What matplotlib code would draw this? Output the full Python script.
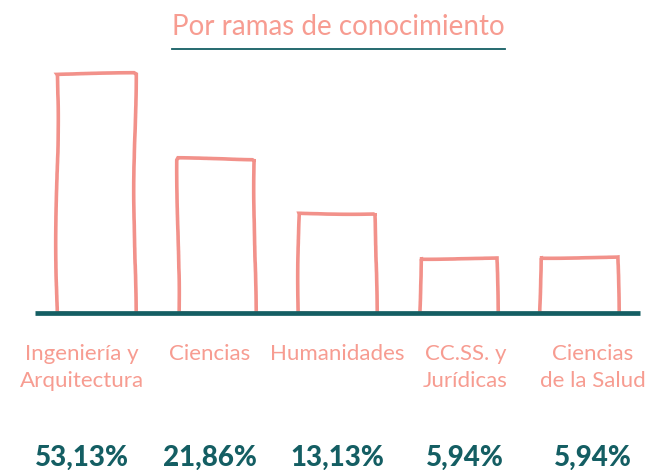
import matplotlib
matplotlib.use("Agg")
import matplotlib.pyplot as plt
from matplotlib.lines import Line2D

# ---- data ----
categories = ["Ingeniería y\nArquitectura", "Ciencias", "Humanidades",
              "CC.SS. y\nJurídicas", "Ciencias\nde la Salud"]
bar_heights = [239, 154, 100, 55, 56]          # drawn heights
percent_labels = ["53,13%", "21,86%", "13,13%", "5,94%", "5,94%"]
title = "Por ramas de conocimiento"

# ---- style ----
SALMON = "#F2918A"
SALMON_TXT = "#F79C91"
TEAL = "#145E63"

W, H = 648, 470
fig = plt.figure(figsize=(W / 100, H / 100), dpi=100)
fig.patch.set_facecolor("white")

base_px = 313  # baseline from top
ax = fig.add_axes([0, (H - base_px) / H, 1, base_px / H])
ax.set_axis_off()
step = 120.75
x0 = 96
ax.set_xlim(-x0 / step, (W - x0) / step)
ax.set_ylim(0, base_px)

xs = list(range(len(categories)))
bars = ax.bar(xs, bar_heights, width=0.64, fill=False, edgecolor=SALMON,
              linewidth=2.6, joinstyle="miter", capstyle="round")
for i, b in enumerate(bars):
    b.set_sketch_params(scale=1.3, length=320, randomness=3)

# baseline
ax.plot([-0.505, 4.505], [0, 0], color=TEAL, lw=3.4, solid_capstyle="butt",
        clip_on=False, zorder=5)

# title
fig.text(338 / W, 1 - 27 / H, title, ha="center", va="center", color=SALMON_TXT,
         fontsize=20, family="Lato", fontweight="normal")
fig.add_artist(Line2D([172 / W, 505 / W], [1 - 49 / H, 1 - 49 / H], color=TEAL,
                      lw=1.3, transform=fig.transFigure))

# category labels and percentages
lab_step = 127.75
for i, (cat, pct) in enumerate(zip(categories, percent_labels)):
    xc = (82 + i * lab_step) / W
    fig.text(xc, 1 - 344 / H, cat, ha="center", va="top", color=SALMON_TXT,
             fontsize=16, family="Lato", fontweight="normal", linespacing=1.45)
    fig.text(xc, 1 - 458 / H, pct, ha="center", va="center", color=TEAL,
             fontsize=20, family="Lato", fontweight="black")

fig.savefig("out.png", dpi=100, facecolor="white")
